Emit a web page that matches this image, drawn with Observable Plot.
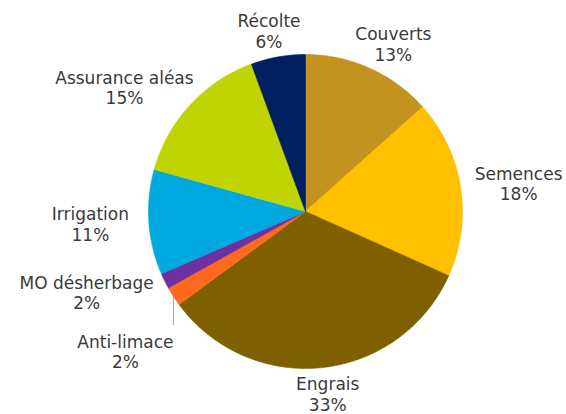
<!DOCTYPE html>
<html>
<head>
<meta charset="utf-8">
<script src="https://cdn.jsdelivr.net/npm/d3@7"></script>
<script src="https://cdn.jsdelivr.net/npm/@observablehq/plot@0.6"></script>
<style>
  html, body { margin: 0; padding: 0; background: #fff; }
  #chart { width: 566px; height: 414px; }
</style>
</head>
<body>
<div id="chart"></div>
<script>
// ---- data ----
const categories = ["Couverts", "Semences", "Engrais", "Anti-limace", "MO désherbage", "Irrigation", "Assurance aléas", "Récolte"];
const shares = [13.4, 18.3, 33.2, 2.0, 1.6, 10.8, 15.1, 5.6];
const colors = ["#C4921E", "#FFC000", "#7F6000", "#FF6A1F", "#7030A0", "#00A8E0", "#BFD400", "#002060"];

// ---- layout constants ----
const W = 566, H = 414;
const R = 157;             // pie radius (data units = px)
const CX = 305, CY = 211;  // pie centre position within the frame
const FONT = 17, LH = 1.2;
const GX = 20, GY = 6, PAD = 18, EDGE = 4;
const FONT_FAMILY = "DejaVu Sans, Verdana, sans-serif";

const total = d3.sum(shares);
const ctx = document.createElement("canvas").getContext("2d");
ctx.font = `${FONT}px ${FONT_FAMILY}`;

// slice polygons
const slicePts = [];
const labels = [];
let acc = 0;
categories.forEach((c, i) => {
  const a0 = acc / total * 2 * Math.PI;
  acc += shares[i];
  const a1 = acc / total * 2 * Math.PI;
  slicePts.push({cat: c, x: 0, y: 0});
  const n = Math.max(2, Math.ceil((a1 - a0) / (Math.PI / 360)));
  for (let k = 0; k <= n; k++) {
    const t = a0 + (a1 - a0) * k / n;
    slicePts.push({cat: c, x: R * Math.sin(t), y: R * Math.cos(t)});
  }
  slicePts.push({cat: c, x: 0, y: 0});
  const m = (a0 + a1) / 2;
  const pct = Math.round(shares[i] / total * 100) + "%";
  const text = c + "\n" + pct;
  const w = Math.max(ctx.measureText(c).width, ctx.measureText(pct).width);
  const h = 2 * FONT * LH;
  const s = Math.sin(m), co = Math.cos(m);
  let x = (R + GX) * s + s * w / 2;
  // keep labels inside the frame
  x = Math.min(x, (W - CX) - EDGE - w / 2);
  x = Math.max(x, -CX + EDGE + w / 2);
  labels.push({
    cat: c, text, w, h, s, co,
    rimX: R * s, rimY: R * co,
    x,
    y: (R + GY) * co + co * h / 2,
    moved: false
  });
});

// simple collision resolution: push overlapping labels downward
const sorted = labels.slice().sort((a, b) => b.y - a.y);
const placed = [];
for (const L of sorted) {
  for (const P of placed) {
    if (Math.abs(L.x - P.x) < (L.w + P.w) / 2 && P.y - L.y < (L.h + P.h) / 2 + PAD) {
      L.y = P.y - ((L.h + P.h) / 2 + PAD);
      L.moved = true;
      L.x = L.s < 0 ? L.rimX - L.w / 2 : L.rimX + L.w / 2;
    }
  }
  placed.push(L);
}
const leaders = labels.filter(d => d.moved).map(d => ({
  x1: d.rimX, y1: d.rimY, x2: d.rimX, y2: d.y + d.h / 2 + 6
}));

const plot = Plot.plot({
  width: W, height: H,
  marginTop: 0, marginRight: 0, marginBottom: 0, marginLeft: 0,
  x: {domain: [-CX, W - CX], axis: null},
  y: {domain: [-(H - CY), CY], axis: null},
  color: {domain: categories, range: colors},
  style: {background: "#fff", fontFamily: FONT_FAMILY},
  marks: [
    Plot.line(slicePts, {x: "x", y: "y", z: "cat", fill: "cat", stroke: "cat", strokeWidth: 0.6, curve: "linear"}),
    Plot.link(leaders, {x1: "x1", y1: "y1", x2: "x2", y2: "y2", stroke: "#A6A6A6", strokeWidth: 1}),
    Plot.text(labels, {x: "x", y: "y", text: "text", fontSize: FONT, lineHeight: LH, fill: "#3A3A3A", textAnchor: "middle"})
  ]
});
document.getElementById("chart").appendChild(plot);
</script>
</body>
</html>
